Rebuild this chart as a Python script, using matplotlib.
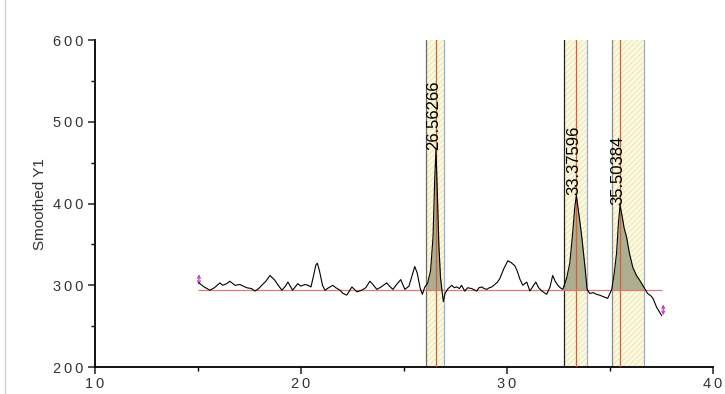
import numpy as np
import matplotlib.pyplot as plt

plt.rcParams['font.family'] = ['Liberation Sans', 'DejaVu Sans']

# smoothed signal
x = [15.05, 15.3, 15.58, 15.8, 16.07, 16.2, 16.4, 16.55, 16.8, 17.04, 17.2, 17.38,
     17.6, 17.77, 17.95, 18.1, 18.3, 18.5, 18.74, 18.9, 19.08, 19.25, 19.37, 19.6,
     19.85, 20.0, 20.2, 20.35, 20.49, 20.6, 20.73, 20.8, 20.9, 21.05, 21.17, 21.35,
     21.55, 21.7, 21.9, 22.05, 22.23, 22.48, 22.72, 22.96, 23.15, 23.35, 23.5, 23.69,
     23.9, 24.17, 24.3, 24.47, 24.65, 24.85, 25.05, 25.25, 25.4, 25.53, 25.65, 25.8,
     25.9, 26.02, 26.15, 26.3, 26.42, 26.5, 26.56, 26.62, 26.7, 26.78, 26.86, 26.92,
     27.0, 27.15, 27.33, 27.45, 27.57, 27.7, 27.8, 27.96, 28.1, 28.3, 28.45, 28.54,
     28.65, 28.79, 28.9, 29.03, 29.15, 29.27, 29.42, 29.55, 29.66, 29.85, 30.05,
     30.2, 30.39, 30.5, 30.63, 30.78, 30.97, 31.12, 31.25, 31.41, 31.55, 31.7,
     31.94, 32.1, 32.23, 32.35, 32.48, 32.6, 32.72, 32.9, 33.06, 33.2, 33.3, 33.38,
     33.46, 33.55, 33.64, 33.8, 33.9, 34.03, 34.2, 34.35, 34.5, 34.7, 34.9, 35.1,
     35.22, 35.33, 35.42, 35.5, 35.6, 35.7, 35.82, 35.95, 36.12, 36.3, 36.46, 36.65,
     36.84, 37.0, 37.1, 37.28, 37.4, 37.52]
y = [303, 298, 294, 297, 303, 300, 302, 305, 300, 301, 299, 297,
     296, 293, 296, 300, 305, 312, 306, 300, 294, 299, 304, 294,
     302, 299, 301, 300, 298, 310, 325, 327, 318, 300, 294, 297,
     300, 297, 294, 290, 288, 298, 292, 294, 297, 305, 301, 295,
     298, 303, 299, 295, 301, 307, 295, 299, 312, 323, 315, 296,
     289, 298, 302, 318, 360, 430, 466, 420, 350, 310, 292, 280,
     290, 296, 300, 297, 298, 296, 300, 293, 297, 296, 294, 293,
     297, 298, 296, 295, 297, 298, 301, 304, 308, 320, 330,
     328, 324, 318, 308, 300, 304, 293, 298, 304, 297, 293,
     289, 298, 312, 305, 300, 297, 295, 308, 327, 364, 395, 410,
     395, 378, 360, 322, 295, 290, 291, 289, 288, 286, 284, 295,
     315, 339, 375, 398, 385, 370, 359, 340, 322, 312, 306, 298,
     290, 287, 284, 273, 268, 263]

baseline = 294
base_start, base_end = 15.0, 37.55

# peak centres and integration windows
peak_centers = [26.56266, 33.37596, 35.50384]
peak_tops = [466, 410, 398]
band_left = [26.07, 32.77, 35.11]
band_right = [26.94, 33.9, 36.66]
left_edge_colors = ['#6a6a6a', '#222222', '#8a8a8a']

x_ticks = [10, 20, 30, 40]
y_ticks = [200, 300, 400, 500, 600]

fig = plt.figure(figsize=(7.25, 3.94), dpi=100)
ax = fig.add_axes([0.131, 0.0685, 0.852, 0.8295])
x = np.array(x)
y = np.array(y)

for lo, hi, ec in zip(band_left, band_right, left_edge_colors):
    ax.axvspan(lo, hi, facecolor='#fcfae0', edgecolor='#f0e9c2', hatch='//////',
               linewidth=0, zorder=1)
    ax.axvline(lo, color=ec, lw=0.9, zorder=2)
    ax.axvline(hi, color='#a3abc4', lw=0.9, zorder=2)
    inside = (x >= lo) & (x <= hi)
    ax.fill_between(x, y, baseline, where=inside & (y >= baseline), interpolate=True,
                    color='#a6a688', alpha=0.9, linewidth=0, zorder=3)

for c in peak_centers:
    ax.axvline(c, color='#c8643c', lw=0.9, zorder=4)

ax.hlines(baseline, base_start, base_end, color='#e07a7a', lw=0.9, zorder=4)
ax.plot(x, y, color='black', lw=0.8, zorder=5)

for c, t in zip(peak_centers, peak_tops):
    ax.text(c - 0.1, t, f'{c:.5f}', rotation=90, ha='center', va='bottom',
            fontsize=12, zorder=6)

# magenta end markers
ax.annotate('', xy=(15.05, 317), xytext=(15.05, 297),
            arrowprops=dict(arrowstyle='<->', color='#c040c0', lw=0.9,
                            mutation_scale=5))
ax.annotate('', xy=(37.6, 280), xytext=(37.6, 260),
            arrowprops=dict(arrowstyle='<->', color='#c040c0', lw=0.9,
                            mutation_scale=5))


def spaced(v):
    return '\u2009'.join(str(v))


ax.set_xlim(10, 40)
ax.set_ylim(200, 600)
ax.set_xticks(x_ticks, [spaced(v) for v in x_ticks])
ax.set_xticks([15, 25, 35], minor=True)
ax.set_yticks(y_ticks, [spaced(v) for v in y_ticks])
ax.set_yticks([250, 350, 450, 550], minor=True)
ax.spines['top'].set_visible(False)
ax.spines['right'].set_visible(False)
ax.spines['left'].set_linewidth(1.3)
ax.spines['bottom'].set_linewidth(1.3)
ax.tick_params(which='major', direction='out', length=5, width=1.2,
               labelsize=10.5, colors='#333333', labelcolor='#333333')
ax.tick_params(which='minor', direction='out', length=3, width=1.0)
ax.tick_params(axis='x', pad=2)
ax.set_ylabel('Smoothed Y1', fontsize=11, color='#333333', labelpad=4)

fig.add_artist(plt.Line2D([0.007, 0.007], [0, 1], color='#d0d0d0', lw=1))

fig.savefig('out.png', dpi=100)
